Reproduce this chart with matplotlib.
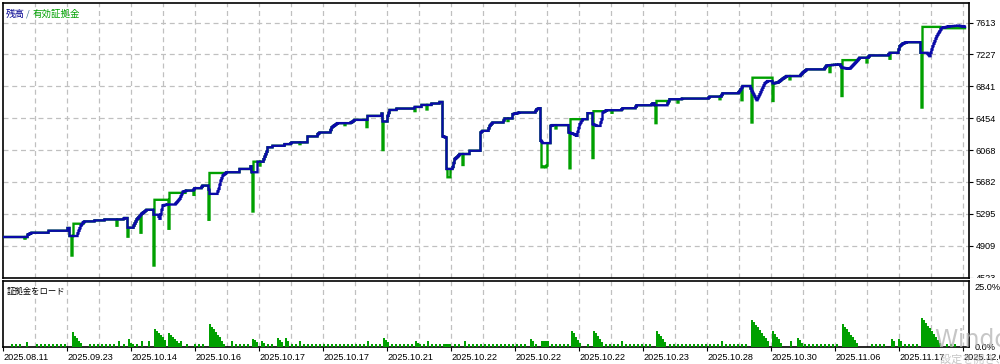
import numpy as np
import matplotlib
matplotlib.use("Agg")
import matplotlib.pyplot as plt
from matplotlib.patches import Rectangle

# ---------------- data ----------------
bal_idx = [4, 27, 28, 32, 48, 49, 67, 68, 69, 70, 77, 79, 81, 83, 85, 94, 95, 104, 105, 123,
           125, 127, 128, 133, 137, 142, 147, 153, 154, 158, 160, 163, 168, 175, 180, 183, 187, 193,
           195, 201, 203, 208, 210, 217, 219, 221, 223, 227, 239, 240, 250, 251, 252, 257, 258, 263,
           267, 268, 272, 273, 284, 285, 290, 292, 307, 308, 317, 318, 320, 330, 332, 335, 338, 350,
           353, 355, 367, 368, 381, 382, 383, 387, 388, 390, 396, 397, 414, 415, 421, 422, 431, 432,
           439, 440, 442, 443, 446, 447, 452, 453, 455, 458, 460, 469, 470, 480, 481, 483, 488, 490,
           493, 503, 505, 512, 513, 520, 535, 537, 540, 541, 543, 550, 551, 553, 568, 569, 574, 577,
           580, 583, 587, 588, 592, 593, 597, 600, 602, 603, 607, 621, 623, 635, 637, 651, 653, 654,
           655, 667, 670, 681, 683, 708, 710, 721, 723, 738, 740, 743, 750, 752, 757, 760, 765, 768,
           772, 773, 778, 782, 787, 800, 803, 807, 824, 827, 840, 842, 850, 857, 860, 868, 870, 888,
           890, 898, 900, 903, 907, 920, 921, 927, 930, 933, 937, 942, 950, 958, 963, 965]
bal_val = [5014, 5014, 5042, 5066, 5066, 5090, 5090, 5123, 5123, 5026, 5026, 5090, 5151, 5187, 5203,
           5203, 5215, 5215, 5227, 5227, 5244, 5244, 5127, 5127, 5227, 5296, 5344, 5344, 5284, 5284,
           5235, 5396, 5408, 5408, 5477, 5561, 5577, 5577, 5606, 5606, 5637, 5637, 5537, 5537, 5597,
           5697, 5758, 5799, 5799, 5839, 5839, 5871, 5799, 5799, 5927, 5927, 6048, 6101, 6101, 6120,
           6120, 6140, 6140, 6161, 6161, 6233, 6233, 6261, 6281, 6281, 6342, 6370, 6394, 6394, 6414,
           6434, 6434, 6482, 6482, 6511, 6414, 6414, 6482, 6554, 6554, 6571, 6571, 6591, 6591, 6615,
           6615, 6632, 6632, 6651, 6651, 6233, 6221, 5839, 5839, 5863, 5959, 5992, 6020, 6020, 6060,
           6060, 6281, 6301, 6301, 6361, 6402, 6402, 6451, 6451, 6503, 6523, 6523, 6563, 6575, 6180,
           6152, 6152, 6361, 6370, 6370, 6281, 6261, 6241, 6382, 6442, 6442, 6515, 6515, 6382, 6361,
           6361, 6442, 6523, 6551, 6551, 6575, 6575, 6611, 6611, 6635, 6635, 6611, 6611, 6684, 6684,
           6692, 6692, 6716, 6716, 6756, 6756, 6784, 6844, 6844, 6784, 6672, 6744, 6877, 6904, 6904,
           6877, 6885, 6925, 6965, 6965, 7006, 7046, 7046, 7094, 7106, 7066, 7054, 7146, 7187, 7187,
           7215, 7215, 7247, 7247, 7327, 7359, 7375, 7375, 7247, 7247, 7206, 7327, 7448, 7549, 7568,
           7575, 7568, 7561]

# equity: plateaus where it differs from balance (start, end, value)
eq_plateaus = [(74, 83, 5175), (155, 168, 5465), (170, 185, 5549), (210, 224, 5790),
               (254, 257, 5927), (571, 582, 6442), (594, 603, 6539), (657, 667, 6663),
               (753, 772, 6945), (843, 857, 7158), (923, 940, 7561), (941, 965, 7545)]
# equity: single drawdown spikes (index, value)
eq_spikes = [(25, 4994), (72, 4789), (117, 5151), (128, 5018), (141, 5066), (154, 4668),
             (169, 5114), (194, 5525), (209, 5223), (253, 5323), (260, 5880), (300, 6140),
             (345, 6370), (367, 6346), (383, 6068), (415, 6540), (427, 6560), (448, 5738),
             (449, 5738), (450, 5738), (463, 5887), (508, 6420), (542, 5859), (543, 5859),
             (544, 5870), (545, 5870), (546, 5859), (547, 5880), (556, 6330), (570, 5847),
             (593, 5971), (612, 6520), (656, 6394), (678, 6644), (720, 6684), (742, 6672),
             (752, 6402), (773, 6663), (790, 6925), (830, 7013), (842, 6723), (867, 7130),
             (890, 7175), (922, 6583)]

# margin load (%)
load_small_runs = [(12, 20), (37, 65), (90, 115), (124, 124), (133, 137), (187, 187), (195, 203),
                   (236, 248), (268, 272), (292, 296), (304, 364), (372, 380), (392, 412),
                   (420, 424), (432, 440), (455, 459), (469, 527), (536, 536), (552, 568),
                   (588, 588), (606, 618), (626, 650), (670, 718), (726, 746), (805, 837),
                   (872, 887), (905, 919), (947, 955)]
load_small_value = 1.2
load_contig = [(444, 451, 1.2), (542, 548, 2.4)]
load_peaks = [(27, [2.0]), (73, [6.1, 4.5, 3.7, 2.5, 1.5]), (119, [2.4]), (129, [3.3, 1.8]),
              (142, [2.4]), (149, [2.4]), (155, [7.4, 6.6, 5.8, 4.9, 4.1, 2.9]),
              (169, [5.8, 4.9, 4.1, 3.3, 2.5, 1.6]), (181, [2.4]),
              (210, [9.4, 8.3, 7.2, 6.1, 5.0, 3.9, 2.5, 1.4]), (232, [2.4]),
              (253, [3.3, 2.7, 2.0]), (262, [2.4, 1.6]), (278, [3.7, 2.9, 2.0]),
              (286, [3.7, 2.5]), (300, [2.4]), (368, [2.4]), (384, [3.7, 2.9, 2.0]),
              (416, [2.4, 1.6]), (428, [2.4]), (465, [2.4]), (531, [3.3, 2.5]),
              (572, [6.6, 5.7, 4.3, 3.0, 1.6]), (594, [6.6, 5.7, 4.5, 3.3, 2.0]), (622, [2.4]),
              (657, [6.6, 5.5, 4.5, 3.3, 2.2]), (722, [2.4]),
              (752, [11.1, 10.3, 9.2, 8.2, 7.0, 5.8, 4.7, 3.5, 2.3]),
              (773, [6.6, 5.5, 4.3, 3.1, 1.8]), (791, [2.4]), (798, [3.7, 2.7, 1.6]),
              (843, [9.4, 8.4, 7.3, 6.2, 5.1, 4.0, 2.9, 1.8]), (892, [3.3, 2.4]), (899, [3.3, 2.4]),
              (922, [11.9, 11.1, 10.0, 8.8, 7.6, 6.5, 5.3, 4.2, 3.0, 1.8])]

y_ticks = [4523, 4909, 5295, 5682, 6068, 6454, 6841, 7227, 7613]
date_pos = [3, 67, 131, 195, 259, 323, 387, 451, 515, 579, 643, 707, 771, 835, 899, 963]
date_labels = ["2025.08.11", "2025.09.23", "2025.10.14", "2025.10.16", "2025.10.17", "2025.10.17",
               "2025.10.21", "2025.10.22", "2025.10.22", "2025.10.22", "2025.10.23", "2025.10.28",
               "2025.10.30", "2025.11.06", "2025.11.17", "2025.12.01"]

# ---------------- styling ----------------
BLUE = "#0A0AA8"
GREEN = "#00A000"
GRID = "#C0C0C0"
W, H = 1000, 364
TICKFONT = dict(family="Liberation Sans", size=6.6)
CJK = ["Noto Sans CJK JP", "DejaVu Sans"]

fig = plt.figure(figsize=(10, 3.64), dpi=100)
fig.patch.set_facecolor("white")

def fig_rect(l, t, r, b):
    return [l / W, 1 - b / H, (r - l) / W, (b - t) / H]

ax = fig.add_axes(fig_rect(3, 3, 969, 277.5))
ax2 = fig.add_axes(fig_rect(3, 280.5, 969, 347))

XMIN, XMAX = 3, 969
grid_x = np.arange(35, 966, 32)

# --- main panel ---
xs = np.arange(4, 966, 1.0)
bal = np.interp(xs, bal_idx, bal_val)
eq = bal.copy()
for x0, x1, v in eq_plateaus:
    eq[(xs >= x0) & (xs <= x1)] = v
for x, v in eq_spikes:
    eq[xs == x] = v

ax.plot(xs, eq, color=GREEN, lw=1.7, drawstyle="steps-mid", solid_joinstyle="miter", zorder=3)
ax.plot(xs, bal, color=BLUE, lw=1.7, drawstyle="steps-mid", solid_joinstyle="miter", zorder=4)

top_val = 7613 + (22.6 - 3) / ((277.5 - 22.6) / 8) * 386.25
ax.set_ylim(4523, top_val)
ax.set_xlim(XMIN, XMAX)
for y in y_ticks[1:]:
    ax.axhline(y, color=GRID, lw=0.9, ls=(0, (4, 3)), zorder=1)
for x in grid_x:
    ax.axvline(x, color=GRID, lw=0.9, ls=(0, (4, 3)), zorder=1)
ax.yaxis.tick_right()
ax.set_yticks(y_ticks)
ax.set_yticklabels([str(v) for v in y_ticks], **TICKFONT)
ax.tick_params(axis="y", direction="out", length=3, width=0.8, pad=2, colors="black")
ax.set_xticks([])
for s in ax.spines.values():
    s.set_color("black")
    s.set_linewidth(1.2)

ax.text(0.003, 0.975, "残高", transform=ax.transAxes, color="#000090", fontsize=6.8,
        family=CJK, va="top", ha="left")
ax.text(0.024, 0.975, "/", transform=ax.transAxes, color="#3a6f8f", fontsize=6.8,
        family=CJK, va="top", ha="left")
ax.text(0.031, 0.975, "有効証拠金", transform=ax.transAxes, color=GREEN, fontsize=6.8,
        family=CJK, va="top", ha="left")

# --- load panel ---
bx, bh, bw = [], [], []
for a, b in load_small_runs:
    for x in range(a, b + 1, 4):
        bx.append(x); bh.append(load_small_value); bw.append(1.9)
for a, b, v in load_contig:
    for x in range(a, b + 1, 2):
        bx.append(x); bh.append(v); bw.append(2.05)
for start, hs in load_peaks:
    for i, v in enumerate(hs):
        bx.append(start + 2 * i); bh.append(v); bw.append(2.05)
ax2.bar(bx, bh, width=bw, color=GREEN, edgecolor="none", zorder=3, align="center")

ax2.set_xlim(XMIN, XMAX)
ax2.set_ylim(0, 25 * 66.5 / 61)
for x in grid_x:
    ax2.axvline(x, color=GRID, lw=0.9, ls=(0, (4, 3)), zorder=1)
ax2.yaxis.tick_right()
ax2.set_yticks([0, 25])
ax2.set_yticklabels(["0.0%", "25.0%"], **TICKFONT)
ax2.tick_params(axis="y", length=0, pad=4)
ax2.set_xticks(date_pos)
ax2.set_xticklabels(date_labels, **TICKFONT)
ax2.tick_params(axis="x", direction="out", length=3, width=0.8, pad=1.5)
for lab in ax2.get_xticklabels():
    lab.set_horizontalalignment("left")
for s in ax2.spines.values():
    s.set_color("black")
    s.set_linewidth(1.2)
ax2.text(0.004, 0.9, "証拠金をロード", transform=ax2.transAxes, color="black", fontsize=6,
         family=CJK, va="top", ha="left")

# white strip between panels on the right (clips bottom main label)
fig.add_artist(Rectangle((969.6 / W, 1 - 281 / H), 31 / W, 3.3 / H,
                         transform=fig.transFigure, facecolor="white", edgecolor="none",
                         zorder=10))

# OS watermark
fig.text(935 / W, 1 - 347 / H, "Windows のライセンス認証", fontsize=17, color="#b4b4b4",
         alpha=0.75, family=["DejaVu Sans", "Noto Sans CJK JP"], ha="left", va="baseline",
         zorder=20)
fig.text(940 / W, 1 - 363 / H, "設定を開き、Windows をライセンス認証してください。", fontsize=8,
         color="#b4b4b4", alpha=0.75, family=CJK, ha="left", va="baseline", zorder=20)

fig.savefig("out.png", dpi=100, facecolor="white")
